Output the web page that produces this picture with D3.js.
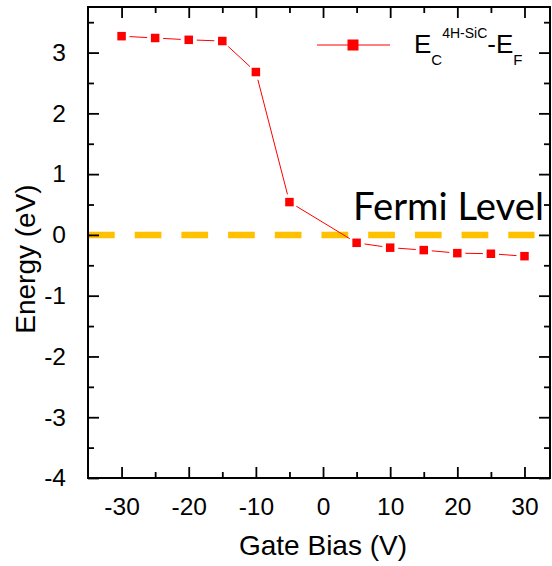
<!DOCTYPE html>
<html>
<head>
<meta charset="utf-8">
<script src="https://cdn.jsdelivr.net/npm/d3@7/dist/d3.min.js"></script>
<style>
  body { margin: 0; background: #fff; }
  svg { display: block; font-family: "Liberation Sans", Arial, sans-serif; }
</style>
</head>
<body>
<svg id="svg" width="552" height="566"></svg>
<script>
// DATA //
const gateBias = [-30, -25, -20, -15, -10, -5, 5, 10, 15, 20, 25, 30];
const energy = [3.27, 3.24, 3.21, 3.19, 2.68, 0.54, -0.13, -0.21, -0.25, -0.30, -0.31, -0.35];
const fermiLevel = 0;
const xTicks = [-30, -20, -10, 0, 10, 20, 30];
const yTicks = [-4, -3, -2, -1, 0, 1, 2, 3];

// Plot box
let margin = {top: 7, right: 2, bottom: 88, left: 88};
const W = 552, H = 566;
let width = W - margin.left - margin.right;
let height = H - margin.top - margin.bottom;

const svg = d3.select("#svg");
const g = svg.append("g")
  .attr("transform", "translate(" + margin.left + "," + margin.top + ")");

// Scales
let x = d3.scaleLinear().domain([-35, 33.8]).range([0, width]);
let y = d3.scaleLinear().domain([-4, 3.75]).range([height, 0]);

const xMinor = d3.range(-35, 34, 5).filter(v => !xTicks.includes(v) && v > -35);
const yMinor = d3.range(-3.5, 3.75, 1);

// plain hyphen for negative numbers, like the original
const fmt = (d) => String(d);

// Fermi level dashed line
g.append("line")
  .attr("x1", 0).attr("x2", x(30) + 10)
  .attr("y1", y(fermiLevel)).attr("y2", y(fermiLevel))
  .attr("stroke", "#ffc000")
  .attr("stroke-width", 6.5)
  .attr("stroke-dasharray", "26.7 20");

// Data line segments with gaps near symbols (Origin style)
const pts = gateBias.map((d, i) => [x(d), y(energy[i])]);
const gap = 8;
for (let i = 0; i < pts.length - 1; i++) {
  let [x1, y1] = pts[i], [x2, y2] = pts[i + 1];
  let len = Math.hypot(x2 - x1, y2 - y1);
  if (len <= 2 * gap) continue;
  let ux = (x2 - x1) / len, uy = (y2 - y1) / len;
  g.append("line")
    .attr("x1", x1 + ux * gap).attr("y1", y1 + uy * gap)
    .attr("x2", x2 - ux * gap).attr("y2", y2 - uy * gap)
    .attr("stroke", "#ff0000")
    .attr("stroke-width", 1);
}

// Markers
const ms = 8.5;
g.selectAll("rect.pt")
  .data(gateBias)
  .enter()
  .append("rect")
  .attr("class", "pt")
  .attr("x", (d) => x(d) - ms / 2)
  .attr("y", (d, i) => y(energy[i]) - ms / 2)
  .attr("width", ms)
  .attr("height", ms)
  .attr("fill", "#ff0000");

// Axes (ticks inward on all four sides)
const tickStyle = (sel) => {
  sel.select(".domain").remove();
  sel.selectAll("line").attr("stroke", "#000").attr("stroke-width", 1.8);
  sel.selectAll("text").attr("font-size", 24.5).attr("fill", "#000");
};

g.append("g")
  .attr("transform", `translate(0,${height})`)
  .call(d3.axisBottom(x).tickValues(xTicks).tickSizeInner(-11).tickPadding(20).tickFormat(fmt))
  .call(tickStyle);
g.append("g")
  .attr("transform", `translate(0,${height})`)
  .call(d3.axisBottom(x).tickValues(xMinor).tickSize(-6).tickFormat(""))
  .call(tickStyle);
g.append("g")
  .call(d3.axisTop(x).tickValues(xTicks).tickSize(-11).tickFormat(""))
  .call(tickStyle);
g.append("g")
  .call(d3.axisTop(x).tickValues(xMinor).tickSize(-6).tickFormat(""))
  .call(tickStyle);

g.append("g")
  .call(d3.axisLeft(y).tickValues(yTicks).tickSize(-11).tickPadding(22).tickFormat(fmt))
  .call(tickStyle);
g.append("g")
  .call(d3.axisLeft(y).tickValues(yMinor).tickSize(-6).tickFormat(""))
  .call(tickStyle);
g.append("g")
  .attr("transform", `translate(${width},0)`)
  .call(d3.axisRight(y).tickValues(yTicks).tickSize(-11).tickFormat(""))
  .call(tickStyle);
g.append("g")
  .attr("transform", `translate(${width},0)`)
  .call(d3.axisRight(y).tickValues(yMinor).tickSize(-6).tickFormat(""))
  .call(tickStyle);

// Frame
g.append("rect")
  .attr("x", 0).attr("y", 0)
  .attr("width", width).attr("height", height)
  .attr("fill", "none")
  .attr("stroke", "#000")
  .attr("stroke-width", 2);

// Axis titles
svg.append("text")
  .attr("x", 323)
  .attr("y", 555)
  .attr("text-anchor", "middle")
  .attr("font-size", 28)
  .text("Gate Bias (V)");

svg.append("text")
  .attr("transform", "translate(35,259) rotate(-90)")
  .attr("text-anchor", "middle")
  .attr("font-size", 28)
  .text("Energy (eV)");

// Fermi level label
svg.append("text")
  .attr("x", 353)
  .attr("y", 220)
  .attr("font-family", "Lato, 'Open Sans', sans-serif")
  .attr("font-size", 38.5)
  .attr("textLength", 191)
  .attr("lengthAdjust", "spacingAndGlyphs")
  .text("Fermi Level");

// Legend
const legend = svg.append("g").attr("class", "legend");
legend.append("line")
  .attr("x1", 317).attr("x2", 390)
  .attr("y1", 45).attr("y2", 45)
  .attr("stroke", "#ff0000").attr("stroke-width", 1);
legend.append("rect")
  .attr("x", 353 - 5.5).attr("y", 45 - 5.5)
  .attr("width", 11).attr("height", 11)
  .attr("fill", "#ff0000");

const lt = legend.append("text")
  .attr("x", 414)
  .attr("y", 53)
  .attr("font-size", 26);
lt.append("tspan").text("E");
lt.append("tspan").attr("font-size", 15).attr("dy", 12).text("C");
lt.append("tspan").attr("font-size", 14).attr("dy", -27).text("4H-SiC");
lt.append("tspan").attr("dy", 15).text("-E");
lt.append("tspan").attr("font-size", 15).attr("dy", 12).text("F");
</script>
</body>
</html>
